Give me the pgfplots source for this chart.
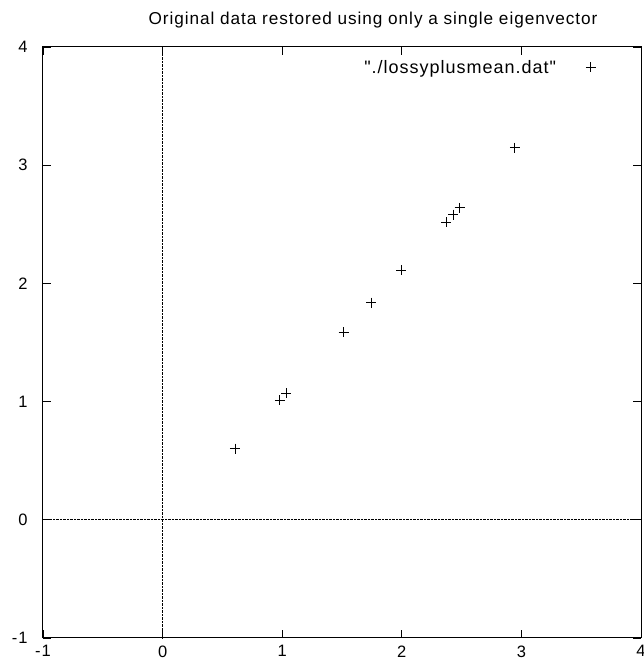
\documentclass[border=0pt]{standalone}
\usepackage{pgfplots}
\pgfplotsset{compat=1.18}
\usepackage{fontspec}
\setmainfont{Liberation Sans}[Ligatures=TeXOff, LetterSpace=5.5]
\usetikzlibrary{calc}
\begin{document}
\begin{tikzpicture}
\begin{axis}[
  name=ax,
  scale only axis,
  width=598pt, height=591pt,
  xmin=-1, xmax=4, ymin=-1, ymax=4,
  xtick={-1,0,1,2,3,4}, ytick={-1,0,1,2,3,4},
  tick align=inside,
  major tick length=8pt,
  axis line style={line width=1pt},
  tick style={line width=0.8pt, black},
  /pgf/number format/assume math mode=true,
  tick label style={font=\fontsize{16.5}{19}\selectfont},
  xticklabel style={yshift=-4pt},
  yticklabel style={xshift=-12pt},
  title={Original data restored using only a single eigenvector},
  title style={font=\fontsize{17.2}{20}\selectfont, yshift=9pt, xshift=31pt},
  legend style={draw=none, fill=none, at={(0.93,0.985)}, anchor=north east,
    font=\fontsize{18}{21}\selectfont, column sep=28pt},
  legend plot pos=right,
  legend cell align=right,
  extra x ticks={0}, extra y ticks={0},
  extra tick style={grid=major, tick style={draw=none}, major grid style={densely dotted, line width=0.8pt, black}, xticklabels={}, yticklabels={}},
]
\addplot[only marks, mark=+, mark size=5pt, line width=0.9pt, black] coordinates {
(2.37125896,2.51870600)
(0.60502558,0.60316089)
(2.48258429,2.63944242)
(1.99587995,2.11159364)
(2.9459812,3.14808842)
(2.42886391,2.58118069)
(1.74281087,1.83713618)
(1.03412498,1.06853567)
(1.51306488,1.58795543)
(0.9804653,1.01027325)
};
\addlegendentry{"./lossyplusmean.dat"}
\end{axis}
\pgfresetboundingbox
\useasboundingbox ($(ax.south west)+(-43pt,-26pt)$) rectangle ($(ax.north east)+(3pt,47pt)$);
\end{tikzpicture}
\end{document}
